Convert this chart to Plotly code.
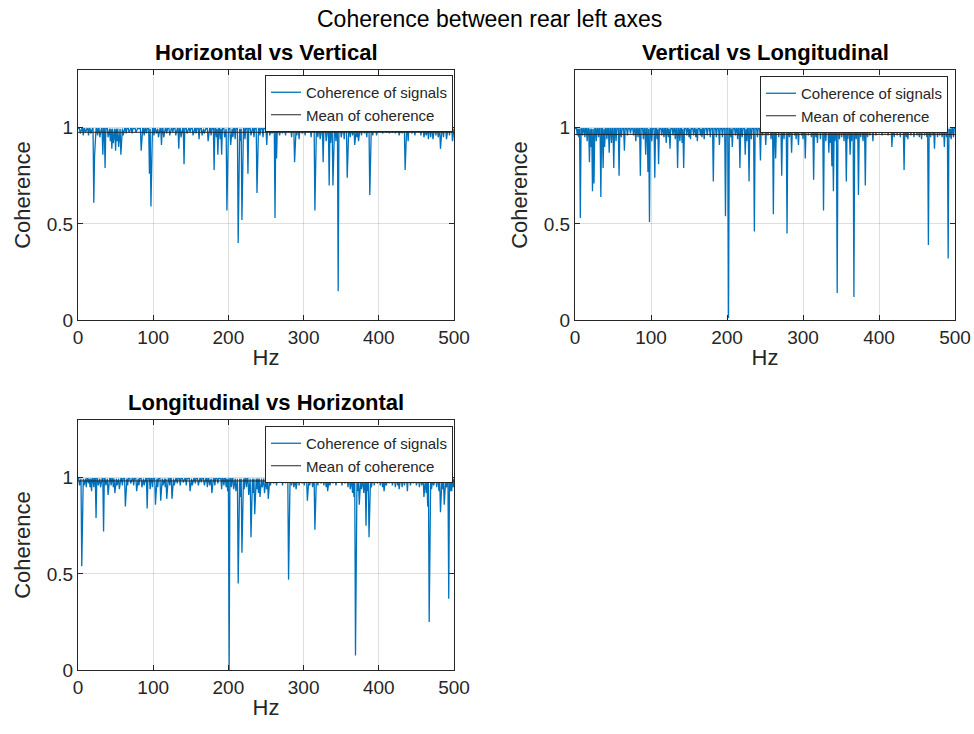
import plotly.graph_objects as go

# ---------------- data ----------------
HZ_MIN, HZ_MAX = 0, 500
TOP_LEVEL = 0.995          # upper envelope of the coherence curve

# Horizontal vs Vertical: frequencies (Hz) with lowered coherence and their values
hv_dip_hz = [3, 7, 10, 14, 17, 21, 22, 26, 29, 33, 36, 40, 43, 45, 47, 50, 52, 54, 57, 60, 64, 68, 72, 77,
             84, 88, 91, 95, 97, 101, 104, 107, 111, 114, 118, 122, 126, 130, 134, 137, 141, 145, 149, 153,
             157, 161, 165, 168, 173, 177, 181, 184, 186, 189, 191, 195, 198, 203, 206, 209, 213, 216, 218,
             222, 226, 230, 234, 238, 242, 246, 251, 255, 258, 262, 264, 268, 272, 276, 280, 284, 288, 291,
             294, 298, 302, 306, 310, 315, 319, 322, 326, 330, 334, 336, 339, 343, 346, 350, 354, 358, 362,
             365, 368, 371, 373, 377, 381, 384, 388, 392, 397, 401, 405, 410, 414, 418, 422, 427, 431, 435,
             439, 444, 448, 452, 456, 460, 463, 466, 469, 472, 476, 479, 482, 486, 490, 494, 498]
hv_dip_coh = [0.97, 0.96, 0.975, 0.96, 0.97, 0.61, 0.85, 0.96, 0.95, 0.86, 0.79, 0.95, 0.93, 0.89, 0.92, 0.88,
              0.93, 0.90, 0.86, 0.96, 0.97, 0.975, 0.97, 0.975, 0.88, 0.96, 0.97, 0.76, 0.59, 0.96, 0.97, 0.95,
              0.91, 0.95, 0.97, 0.96, 0.975, 0.96, 0.89, 0.95, 0.81, 0.97, 0.975, 0.96, 0.97, 0.94, 0.96, 0.97,
              0.93, 0.96, 0.78, 0.95, 0.86, 0.94, 0.86, 0.95, 0.57, 0.91, 0.95, 0.94, 0.40, 0.93, 0.52, 0.94,
              0.76, 0.96, 0.95, 0.66, 0.96, 0.95, 0.91, 0.96, 0.97, 0.53, 0.84, 0.96, 0.97, 0.96, 0.975, 0.95,
              0.82, 0.96, 0.94, 0.97, 0.96, 0.975, 0.95, 0.57, 0.95, 0.94, 0.82, 0.93, 0.70, 0.92, 0.70, 0.93,
              0.15, 0.95, 0.94, 0.74, 0.95, 0.96, 0.91, 0.95, 0.93, 0.96, 0.97, 0.95, 0.65, 0.96, 0.96, 0.975,
              0.97, 0.975, 0.97, 0.975, 0.97, 0.96, 0.97, 0.78, 0.93, 0.97, 0.96, 0.975, 0.96, 0.95, 0.96, 0.94,
              0.95, 0.94, 0.96, 0.95, 0.89, 0.95, 0.94, 0.96, 0.93]
hv_mean = 0.976

# Vertical vs Longitudinal
vl_dip_hz = [3, 5, 7, 10, 13, 16, 19, 21, 23, 25, 28, 31, 34, 37, 39, 42, 45, 48, 51, 54, 58, 61, 65, 69, 73,
             77, 80, 83, 86, 90, 93, 96, 98, 101, 105, 108, 110, 114, 117, 120, 123, 125, 129, 132, 135, 138,
             141, 143, 147, 150, 152, 156, 159, 161, 165, 167, 170, 174, 178, 182, 186, 190, 194, 198, 202,
             205, 207, 211, 214, 217, 220, 224, 226, 229, 232, 236, 240, 244, 247, 251, 254, 258, 261, 264,
             268, 272, 275, 279, 282, 285, 289, 291, 294, 298, 300, 303, 307, 311, 314, 317, 319, 323, 327,
             330, 334, 336, 338, 340, 342, 345, 348, 351, 354, 357, 359, 362, 364, 367, 370, 373, 376, 379,
             382, 385, 388, 392, 396, 400, 404, 408, 412, 417, 420, 424, 428, 433, 436, 438, 442, 446, 450,
             453, 456, 460, 463, 465, 468, 471, 473, 477, 480, 483, 486, 489, 491, 493, 495, 498]
vl_dip_coh = [0.96, 0.95, 0.53, 0.96, 0.95, 0.93, 0.82, 0.90, 0.67, 0.71, 0.93, 0.95, 0.64, 0.79, 0.90, 0.94,
              0.87, 0.92, 0.79, 0.93, 0.75, 0.95, 0.88, 0.96, 0.97, 0.96, 0.93, 0.95, 0.75, 0.94, 0.86, 0.77,
              0.51, 0.93, 0.74, 0.94, 0.81, 0.96, 0.95, 0.92, 0.95, 0.89, 0.96, 0.94, 0.79, 0.93, 0.92, 0.79,
              0.96, 0.95, 0.94, 0.96, 0.95, 0.93, 0.96, 0.95, 0.94, 0.96, 0.95, 0.72, 0.95, 0.91, 0.95, 0.54,
              0.01, 0.95, 0.90, 0.96, 0.94, 0.79, 0.95, 0.86, 0.93, 0.72, 0.94, 0.46, 0.95, 0.83, 0.96, 0.91,
              0.96, 0.94, 0.55, 0.84, 0.95, 0.75, 0.94, 0.45, 0.95, 0.87, 0.96, 0.94, 0.91, 0.96, 0.94, 0.84,
              0.96, 0.95, 0.73, 0.95, 0.92, 0.94, 0.57, 0.93, 0.87, 0.92, 0.80, 0.67, 0.93, 0.14, 0.94, 0.95,
              0.93, 0.72, 0.94, 0.86, 0.93, 0.12, 0.94, 0.65, 0.95, 0.93, 0.70, 0.95, 0.96, 0.93, 0.96, 0.97,
              0.96, 0.97, 0.96, 0.90, 0.95, 0.96, 0.95, 0.78, 0.95, 0.94, 0.96, 0.95, 0.96, 0.95, 0.94, 0.96,
              0.95, 0.39, 0.95, 0.96, 0.89, 0.95, 0.96, 0.95, 0.90, 0.95, 0.32, 0.95, 0.94, 0.95]
vl_mean = 0.965

# Longitudinal vs Horizontal
lh_dip_hz = [2, 5, 8, 11, 14, 16, 18, 21, 24, 27, 30, 34, 37, 40, 44, 47, 49, 52, 55, 59, 63, 66, 70, 74, 78,
             81, 85, 88, 92, 96, 99, 103, 106, 110, 113, 116, 118, 122, 125, 128, 132, 136, 140, 144, 149,
             152, 156, 160, 164, 168, 172, 175, 178, 182, 186, 191, 194, 197, 199, 201, 204, 207, 210, 213,
             216, 218, 221, 224, 227, 230, 233, 235, 238, 240, 242, 245, 248, 251, 253, 256, 260, 264, 268,
             272, 276, 280, 284, 287, 290, 294, 298, 301, 305, 308, 312, 315, 319, 323, 327, 330, 332, 335,
             339, 343, 347, 351, 355, 359, 362, 365, 367, 369, 372, 374, 377, 380, 383, 385, 387, 390, 394,
             398, 402, 405, 407, 410, 414, 418, 422, 425, 427, 431, 434, 438, 442, 446, 450, 454, 457, 460,
             463, 465, 467, 470, 473, 477, 480, 482, 485, 487, 490, 493, 495, 497, 499]
lh_dip_coh = [0.96, 0.54, 0.96, 0.95, 0.97, 0.95, 0.93, 0.95, 0.79, 0.96, 0.95, 0.72, 0.96, 0.91, 0.96, 0.95,
              0.92, 0.96, 0.94, 0.96, 0.85, 0.96, 0.97, 0.96, 0.93, 0.96, 0.95, 0.96, 0.84, 0.94, 0.95, 0.86,
              0.95, 0.88, 0.96, 0.95, 0.89, 0.96, 0.89, 0.96, 0.97, 0.96, 0.975, 0.96, 0.93, 0.96, 0.97, 0.96,
              0.975, 0.96, 0.95, 0.96, 0.92, 0.96, 0.97, 0.94, 0.96, 0.95, 0.93, 0.0, 0.95, 0.94, 0.93, 0.45,
              0.90, 0.61, 0.94, 0.95, 0.91, 0.69, 0.92, 0.81, 0.94, 0.92, 0.90, 0.95, 0.92, 0.94, 0.89, 0.96,
              0.97, 0.96, 0.975, 0.96, 0.97, 0.47, 0.96, 0.95, 0.94, 0.96, 0.97, 0.96, 0.88, 0.96, 0.95, 0.73,
              0.96, 0.97, 0.96, 0.95, 0.93, 0.96, 0.97, 0.96, 0.975, 0.96, 0.97, 0.95, 0.94, 0.92, 0.90, 0.075,
              0.93, 0.86, 0.94, 0.92, 0.75, 0.93, 0.69, 0.95, 0.96, 0.97, 0.96, 0.95, 0.93, 0.96, 0.97, 0.96,
              0.95, 0.96, 0.94, 0.95, 0.96, 0.93, 0.96, 0.97, 0.96, 0.95, 0.96, 0.90, 0.92, 0.85, 0.25, 0.94,
              0.96, 0.95, 0.93, 0.82, 0.94, 0.86, 0.95, 0.37, 0.93, 0.93, 0.95]
lh_mean = 0.983

x_ticks = [0, 100, 200, 300, 400, 500]
y_ticks = [0, 0.5, 1]
y_tick_text = ["0", "0.5", "1"]
sub_titles = ["Horizontal vs Vertical", "Vertical vs Longitudinal", "Longitudinal vs Horizontal"]
main_title = "Coherence between rear left axes"
legend_names = ["Coherence of signals", "Mean of coherence"]


def spectrum(dip_hz, dip_coh):
    hz = list(range(HZ_MIN, HZ_MAX + 1))
    coh = [TOP_LEVEL] * len(hz)
    for h, c in zip(dip_hz, dip_coh):
        coh[h - HZ_MIN] = c
    return hz, coh


# ---------------- figure ----------------
W, H = 974, 734
BLUE = "#0072BD"
DARK = "#262626"
FONT = "Liberation Sans, Arial, Helvetica, sans-serif"

panels = [
    dict(data=(hv_dip_hz, hv_dip_coh), mean=hv_mean, xa="x", ya="y", lg="legend",
         xdom=(78, 454), ydom=(70, 320), title_y=52, leg=(453, 75)),
    dict(data=(vl_dip_hz, vl_dip_coh), mean=vl_mean, xa="x2", ya="y2", lg="legend2",
         xdom=(575, 955), ydom=(70, 320), title_y=52, leg=(948, 76)),
    dict(data=(lh_dip_hz, lh_dip_coh), mean=lh_mean, xa="x3", ya="y3", lg="legend3",
         xdom=(78, 454), ydom=(420, 670), title_y=403, leg=(453, 426)),
]

fig = go.Figure()
layout = dict(
    width=W, height=H, margin=dict(l=0, r=0, t=0, b=0, autoexpand=False),
    paper_bgcolor="white", plot_bgcolor="white",
    font=dict(family=FONT, color=DARK),
    showlegend=True,
)
annotations = [dict(text=main_title, x=490 / W, y=1 - 19 / H, xref="paper", yref="paper",
                    showarrow=False, font=dict(size=23, color="#000000"), xanchor="center", yanchor="middle")]

for i, p in enumerate(panels):
    hz, coh = spectrum(*p["data"])
    fig.add_trace(go.Scatter(x=hz, y=coh, mode="lines", name=legend_names[0],
                             line=dict(color=BLUE, width=1.3), xaxis=p["xa"], yaxis=p["ya"],
                             legend=p["lg"]))
    fig.add_trace(go.Scatter(x=[HZ_MIN, HZ_MAX], y=[p["mean"], p["mean"]], mode="lines",
                             name=legend_names[1], line=dict(color=DARK, width=1),
                             xaxis=p["xa"], yaxis=p["ya"], legend=p["lg"]))
    sfx = "" if i == 0 else str(i + 1)
    common = dict(showline=True, mirror="ticks", linecolor=DARK, linewidth=1,
                  ticks="inside", ticklen=5, tickcolor=DARK, automargin=False,
                  showgrid=True, gridcolor="rgba(38,38,38,0.15)", gridwidth=1,
                  zeroline=False, tickfont=dict(size=19, color=DARK), fixedrange=True)
    layout["xaxis" + sfx] = dict(common, domain=[p["xdom"][0] / W, p["xdom"][1] / W],
                                 range=[HZ_MIN, HZ_MAX], tickvals=x_ticks,
                                 anchor="y" + sfx,
                                 title=dict(text="Hz", font=dict(size=22, color=DARK), standoff=2))
    layout["yaxis" + sfx] = dict(common, domain=[1 - p["ydom"][1] / H, 1 - p["ydom"][0] / H],
                                 range=[0, 1.3], tickvals=y_ticks, ticktext=y_tick_text,
                                 anchor="x" + sfx,
                                 title=dict(text="Coherence", font=dict(size=22, color=DARK), standoff=10))
    layout[p["lg"]] = dict(x=p["leg"][0] / W, y=1 - p["leg"][1] / H, xanchor="right", yanchor="top",
                           bgcolor="white", bordercolor=DARK, borderwidth=1,
                           font=dict(size=15, color=DARK), tracegroupgap=0)
    annotations.append(dict(text="<b>%s</b>" % sub_titles[i],
                            x=(p["xdom"][0] + p["xdom"][1]) / 2 / W, y=1 - p["title_y"] / H,
                            xref="paper", yref="paper", showarrow=False,
                            font=dict(size=22, color="#000000"), xanchor="center", yanchor="middle"))

layout["annotations"] = annotations
fig.update_layout(**layout)
fig.write_html("out.html", config={"displayModeBar": False},
               post_script="document.body.style.margin='0px';")
